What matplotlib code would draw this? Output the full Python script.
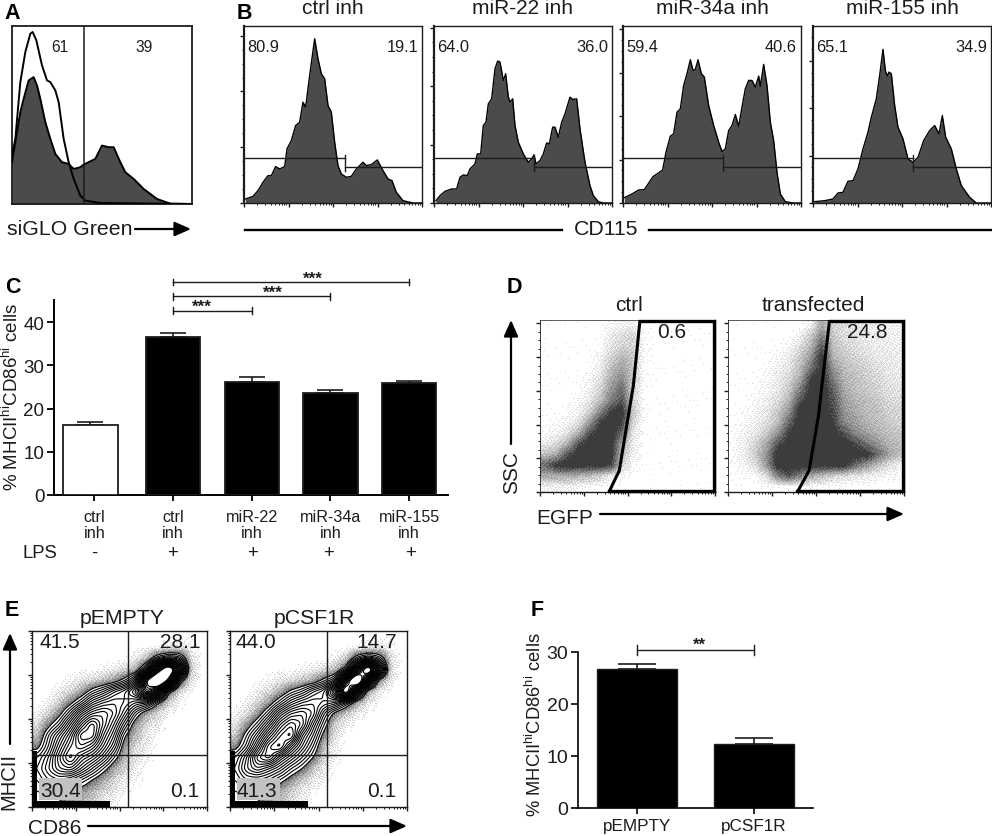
import numpy as np
import matplotlib
matplotlib.use("Agg")
import matplotlib.pyplot as plt
from matplotlib.patches import Rectangle

plt.rcParams['font.family'] = ['Liberation Sans', 'DejaVu Sans']
plt.rcParams['mathtext.default'] = 'regular'
plt.rcParams['axes.linewidth'] = 1.0

W, H = 992, 837
INK = '#1c1c1c'
FILL = '#4b4b4b'

# ---------- Panel A ----------
a_gray_x = [0,15,25,35,50,65,75,85,100,115,130,150,170,185,205,215,250,270,290,305,325,340,365,395,435,475,540]
a_gray_y = [125,215,275,315,370,380,355,315,245,195,150,125,120,105,110,118,135,175,170,170,125,95,75,45,15,1,0]
a_line_x = [0,10,25,40,55,62,73,90,105,115,130,140,155,170,185,205,220,265,540]
a_line_y = [145,195,365,455,510,515,490,415,370,365,340,305,195,125,75,25,10,3,0]
a_gate = 217
a_labels = ['61', '39']

# ---------- Panel B ----------
b_titles = ['ctrl inh', 'miR-22 inh', 'miR-34a inh', 'miR-155 inh']
b_left = ['80.9', '64.0', '59.4', '65.1']
b_right = ['19.1', '36.0', '40.6', '34.9']
b1_x = [4,27,42,57,72,82,95,107,122,129,142,155,167,177,185,197,212,222,232,242,252,262,272,282,292,307,322,337,357,367,382,400,417,432,444,457,477,507,534]
b1_y = [12,20,37,62,82,82,109,102,109,162,187,232,242,302,287,382,492,432,387,372,292,272,182,112,87,77,80,102,122,112,115,129,97,72,67,32,7,0,0]
b2_x = [6,18,33,53,68,78,88,100,108,123,130,140,148,156,163,173,183,191,198,208,215,223,228,236,243,253,268,283,293,300,306,318,328,338,346,356,363,373,383,393,408,416,428,438,453,468,478,493,508,533]
b2_y = [7,22,35,42,42,77,84,82,102,117,147,147,232,242,297,312,402,425,422,367,387,317,302,312,232,182,147,122,132,144,117,127,147,180,177,227,227,197,242,267,317,310,312,222,122,52,22,4,0,0]
b3_x = [4,27,47,64,90,102,119,129,142,152,162,172,182,192,202,210,217,225,235,244,257,272,287,297,307,317,327,337,347,357,367,377,387,397,407,412,422,432,442,452,462,472,487,512,535]
b3_y = [16,27,39,40,79,87,99,152,200,207,272,282,352,387,429,397,400,429,387,377,292,232,182,154,162,217,232,265,229,287,342,367,367,347,380,350,415,352,242,187,92,27,4,0,0]
b4_x = [5,35,60,75,90,105,120,135,150,165,175,190,200,210,217,223,228,235,245,255,270,285,300,315,332,350,365,378,388,398,415,430,445,470,490,532]
b4_y = [4,7,12,30,32,65,67,102,162,212,257,312,382,460,397,380,392,387,292,227,192,132,122,137,187,217,232,207,262,197,162,102,52,17,0,0]
b_gate_split = [302, 300, 300, 300]
b_major_step = [167, 175, 130, 142]

# ---------- Panel C ----------
c_labels = ['ctrl\ninh', 'ctrl\ninh', 'miR-22\ninh', 'miR-34a\ninh', 'miR-155\ninh']
c_lps = ['-', '+', '+', '+', '+']
c_values = [16.2, 36.6, 26.2, 23.7, 26.0]
c_errors = [0.7, 0.9, 1.2, 0.7, 0.5]
c_sig_end = [2, 3, 4]
c_sig_level = [42.7, 46.0, 49.3]

# ---------- Panel D ----------
d_titles = ['ctrl', 'transfected']
d_numbers = ['0.6', '24.8']
d_gate_x = [[300,280,265,238,207], [303,280,270,242,207]]
d_gate_y = [518,320,230,65,0]
d_ctrl = [
 [0,0,0,0,0,0,.03,.06,.06],
 [0,0,0,0,0,0,.08,.15,.2,.01],
 [0,0,0,0,0,0,.12,.2,.2,.02],
 [0,0,0,0,0,.05,.2,.35,.25,.02],
 [0,0,0,0,0,.07,.3,.45,.25],
 [0,0,0,0,.03,.12,.4,.55,.25,.02],
 [0,0,0,0,.05,.2,.5,.7,.2],
 [0,0,0,.02,.1,.3,.6,.8,.2],
 [0,0,.02,.05,.2,.55,.9,1,.25,.02],
 [0,.02,.03,.12,.45,.9,1,.9,.2],
 [.02,.05,.12,.35,.8,1,1,.7,.1],
 [.08,.15,.35,.8,1,1,1,.4,.08],
 [.3,.4,.8,1,1,1,1,.3,.05],
 [.7,.95,1,1,1,1,.9,.2,.02],
 [.4,.4,.4,.35,.3,.2,.08,.02],
 [.05,.05,.05,.03,.03],
]
d_trans = [
 [0,0,0,0,0,0,0,.05,.4,.2,.15,.1,.08,.06,.06,.05],
 [0,0,0,0,0,0,.05,.25,.6,.25,.15,.12,.08,.07,.07,.06],
 [0,0,0,0,0,.03,.15,.35,.8,.3,.2,.15,.1,.08,.08,.06],
 [0,0,0,0,.03,.08,.25,.5,1,.35,.25,.2,.15,.1,.1,.08],
 [0,0,0,.01,.05,.12,.3,.65,1,.5,.3,.25,.2,.15,.1,.08],
 [0,0,0,.03,.08,.18,.4,.9,1,.6,.35,.3,.22,.18,.12,.1],
 [0,0,.01,.04,.1,.25,.6,1,1,.75,.4,.3,.25,.2,.15,.12],
 [0,0,.02,.06,.15,.35,.8,1,1,.8,.45,.35,.3,.25,.18,.15],
 [0,.01,.04,.1,.25,.5,1,1,1,.85,.5,.4,.3,.3,.2,.2],
 [0,.02,.06,.15,.3,.7,1,1,1,.9,.55,.45,.35,.3,.25,.2],
 [.01,.04,.1,.25,.5,.9,1,1,1,1,.8,.55,.45,.35,.3,.25],
 [.01,.06,.2,.4,.8,1,1,1,1,1,1,.85,.65,.5,.35,.3],
 [.02,.08,.25,.5,1,1,1,1,1,1,1,1,1,.7,.45,.3],
 [.01,.05,.15,.5,1,1,1,1,1,1,1,.7,.5,.3,.15,.05],
 [0,.01,.02,.15,.6,.8,.6,.4,.3,.2,.15,.1,.08,.05,.03,.02],
 [0,0,0,.01,.01,.01,.01,.01,.01],
]

# ---------- Panel E ----------
e_titles = ['pEMPTY', 'pCSF1R']
e_numbers = [['41.5', '28.1', '30.4', '0.1'], ['44.0', '14.7', '41.3', '0.1']]
e_empty = [
 [0,0,0,0,0,0,0,0,0,0,0,0,0,.02,.02],
 [0,0,0,0,0,0,0,0,0,0,0,.05,.2,.3,.1],
 [0,0,0,0,0,0,0,0,0,.2,.8,3,4,3.5,.5],
 [0,0,0,0,0,0,.1,.2,.5,1,4,11,16,9,.6],
 [0,0,0,.1,.3,.5,.8,1.3,2.4,4.5,13,17,12,2.5,.3],
 [0,0,.2,.5,1.1,2.5,3.5,5,6,8,12,9,2,.4],
 [0,.1,.6,1.6,3,5,6,6.5,6,5,4.5,2,.5,.1],
 [.1,.5,1.6,3.5,6,7.5,8,7,5,2.6,1,.4],
 [.4,1.6,3,5.5,8,10,8,6,3.5,1.2,.5,.2],
 [.8,3,5,7,10,10,7,5,2,.8,.3],
 [1.6,3.5,6,8,9,8,6,4,1.2,.5,.2],
 [3,4.5,7,9,7,6,4.5,2.5,.8,.3,.1],
 [3.5,5,6.5,7,5.5,4,2.5,1.1,.5,.2],
 [3,4,4.5,4,3,2,1.1,.6,.2,.1],
 [2.5,3,2.5,2,1.5,1,.6,.3,.1],
 [2,2,2,1.5,1,.6,.3,.1],
]
e_csf1r = [
 [0,0,0,0,0,0,0,0,0,0,0,0,0,.02,.02],
 [0,0,0,0,0,0,0,0,0,0,0,.05,.2,.25,.1],
 [0,0,0,0,0,0,0,0,0,.1,.6,2.8,3.8,3,.4],
 [0,0,0,0,0,0,.1,.2,.4,.8,2.5,9,16,7,.4],
 [0,0,0,.1,.3,.4,.7,1.1,2.3,3.5,11,17,7,1.3,.2],
 [0,0,.2,.4,1,2.2,3,4.5,5.5,9,15,6,1,.2],
 [0,.1,.5,1.3,2.8,4.5,5.5,6,5.5,5,3,1,.3],
 [.1,.4,1.3,3,5.5,7,7.5,6.5,3.5,1.5,.6,.2],
 [.3,1.3,2.8,5,7.5,9,8,5,2.5,.5,.2],
 [.6,2.5,4.5,7,9,10,6,4,1.5,.4],
 [1.5,3.2,6,9,10,7,5,3,.7,.2],
 [3,5,8,9,6.5,5,3.5,2,.5,.1],
 [3.5,5.5,6.5,5.5,4.5,3,2,.7,.2],
 [3,4,4,3.5,2.5,1.5,.7,.3,.1],
 [2.5,3,2.5,2,1.2,.6,.3,.1],
 [2,2,2,1.5,.8,.4,.2],
]

# ---------- Panel F ----------
f_labels = ['pEMPTY', 'pCSF1R']
f_values = [26.7, 12.3]
f_errors = [0.9, 1.1]

ylabel = '% MHCII$^{hi}$CD86$^{hi}$ cells'
fig = plt.figure(figsize=(W / 100, H / 100), dpi=100, facecolor='white')


def ax_px(l, t, r, b, **kw):
    return fig.add_axes([l / W, 1 - b / H, (r - l) / W, (b - t) / H], **kw)


def flow_ticks(ax, xlim, ymajor=None, ymax=None):
    """Logicle-style decade ticks along the bottom, count ticks at left."""
    decades = (xlim[1] - xlim[0]) / 4
    xmaj = [xlim[0] + i * decades for i in range(5)]
    xmin = [xlim[0] + (i + np.log10(k)) * decades for i in range(4) for k in range(2, 10)]
    ax.set_xticks(xmaj)
    ax.set_xticks(xmin, minor=True)
    if ymajor is not None:
        n = int(ymax / ymajor) + 1
        ax.set_yticks([i * ymajor for i in range(n)])
        ax.set_yticks([i * ymajor / 4 for i in range(4 * n) if i * ymajor / 4 <= ymax], minor=True)
    ax.tick_params(which='major', length=3, width=1.0, color=INK, labelbottom=False, labelleft=False)
    ax.tick_params(which='minor', length=1.5, width=0.7, color=INK)
    for s in ax.spines.values():
        s.set_color(INK)


def upsample(grid, w, h):
    rows = [list(r) + [0] * (16 - len(r)) for r in grid]
    g = np.array(rows, dtype=float)
    n = g.shape[0]
    xs = (np.arange(w) + .5) / w * n - .5
    ys = (np.arange(h) + .5) / h * n - .5
    tmp = np.array([np.interp(xs, np.arange(n), r) for r in g])
    return np.array([np.interp(ys, np.arange(n), c) for c in tmp.T]).T


def blur(a, k, passes=2):
    ker = np.ones(k) / k
    for _ in range(passes):
        a = np.apply_along_axis(lambda v: np.convolve(np.pad(v, k, mode='edge'), ker, mode='same')[k:-k], 0, a)
        a = np.apply_along_axis(lambda v: np.convolve(np.pad(v, k, mode='edge'), ker, mode='same')[k:-k], 1, a)
    return a


def stipple(w, h):
    """Ordered halftone screen that turns a read density grid into fine dots."""
    yy, xx = np.mgrid[0:h, 0:w]
    return np.mod(52.9829189 * np.mod(0.06711056 * xx + 0.00583715 * yy, 1), 1)


# ---------- draw A ----------
ax = ax_px(12, 27, 192, 205)
ax.fill_between(a_gray_x, a_gray_y, color=FILL, lw=0, zorder=2)
ax.plot(a_gray_x, a_gray_y, color='black', lw=1.4, zorder=3)
ax.plot(a_line_x, a_line_y, color='black', lw=1.4, zorder=4)
ax.axvline(a_gate, color=INK, lw=1.1, zorder=5)
ax.set_xlim(0, 540); ax.set_ylim(0, 533)
ax.set_xticks([]); ax.set_yticks([])
for s in ax.spines.values():
    s.set_linewidth(1.3); s.set_color(INK)

# ---------- draw B ----------
b_x = [b1_x, b2_x, b3_x, b4_x]
b_y = [b1_y, b2_y, b3_y, b4_y]
b_boxes = [(244, 422), (434, 612), (623, 801), (813, 991)]
for i, (l, r) in enumerate(b_boxes):
    ax = ax_px(l, 27, r, 204)
    ax.fill_between(b_x[i], b_y[i], color=FILL, lw=0, zorder=2)
    ax.plot(b_x[i], b_y[i], color='black', lw=1.0, zorder=3)
    sp = b_gate_split[i]
    ax.plot([0, sp], [134, 134], color=INK, lw=1.0, zorder=4)
    ax.plot([sp, 534], [107, 107], color=INK, lw=1.0, zorder=4)
    ax.plot([sp, sp], [97, 145], color=INK, lw=1.0, zorder=4)
    ax.set_xlim(0, 534); ax.set_ylim(0, 530)
    flow_ticks(ax, (0, 534), b_major_step[i], 530)
    ax.spines['left'].set_linewidth(1.6)

# ---------- draw C ----------
ax = ax_px(54, 301, 448, 496)
cx0 = [-0.05, 1, 2, 3, 4]
spacing = 78.7
ax.set_xlim(1 - (173 - 54) / spacing, 1 + (448 - 173) / spacing)
ax.set_ylim(0, 195 / 4.32)
ax.bar(cx0, c_values, width=0.69,
       color=['white', 'black', 'black', 'black', 'black'], edgecolor=INK, linewidth=1.3, zorder=3)
ax.errorbar(cx0, c_values, yerr=[[0] * 5, c_errors], fmt='none', ecolor=INK, elinewidth=1.2,
            capsize=9.6, capthick=1.2, zorder=2)
ax.set_xticks(range(5)); ax.set_xticklabels(c_labels, fontsize=11.6, color=INK, linespacing=1.1)
ax.set_yticks(range(0, 41, 10))
ax.tick_params(axis='y', labelsize=13.5, length=5, width=1.3, pad=2, labelcolor=INK)
ax.tick_params(axis='x', length=4, width=1.3, pad=6)
for s in ['top', 'right']:
    ax.spines[s].set_visible(False)
for s in ['left', 'bottom']:
    ax.spines[s].set_linewidth(1.4)
star_x = [1.37, 2.27, 2.78]
for end, lev, sx in zip(c_sig_end, c_sig_level, star_x):
    ax.plot([1, end], [lev, lev], color=INK, lw=1.0, clip_on=False)
    for xv in (1, end):
        ax.plot([xv, xv], [lev - .75, lev + .75], color=INK, lw=1.0, clip_on=False)
    ax.text(sx, lev + 0.9, '***', ha='center', va='center', fontsize=12.3, fontweight='bold',
            color=INK, clip_on=False)

# ---------- draw D ----------
d_boxes = [(540, 715), (728, 904)]
for i, (l, r) in enumerate(d_boxes):
    w, h = r - l, 172
    ax = ax_px(l, 321, r, 493)
    dens = blur(upsample([d_ctrl, d_trans][i], 2 * w, 2 * h), 5, 1) + 0.002
    img = np.where(stipple(2 * w, 2 * h) < dens * 1.1, 0.24, 1.0)
    ax.imshow(img, cmap='gray', vmin=0, vmax=1, extent=(0, w, 0, h), origin='upper',
              aspect='auto', interpolation='antialiased', zorder=1)
    gx = np.array(d_gate_x[i]) * w / 525.0
    gy = np.array(d_gate_y) * h / 518.0
    ax.plot(gx, gy, color='black', lw=2.2, zorder=4, solid_capstyle='butt')
    ax.plot([gx[0], w - .7, w - .7, gx[-1]], [h - .7, h - .7, .7, .7], color='black', lw=2.4, zorder=4,
            clip_on=False, solid_joinstyle='miter')
    ax.set_xlim(0, w); ax.set_ylim(0, h)
    flow_ticks(ax, (0, w), h / 5.1, h)
    ax.spines['top'].set_linewidth(0.5)
    ax.spines['left'].set_linewidth(0.6)

# ---------- draw E ----------
e_boxes = [(32, 207), (230, 407)]
for i, (l, r) in enumerate(e_boxes):
    w, h = r - l, 176
    ax = ax_px(l, 632, r, 808)
    grid = [e_empty, e_csf1r][i]
    dens = blur(upsample(grid, w, h), 5, 2)
    fine = blur(upsample(grid, 2 * w, 2 * h), 9, 2)
    mask = (fine < 2.0) & (stipple(2 * w, 2 * h) < fine * 0.3) & (fine > 0.03)
    img = np.where(mask, 0.0, 1.0)
    ax.imshow(img, cmap='gray', vmin=0, vmax=1, extent=(0, w, h, 0), aspect='auto',
              interpolation='antialiased', zorder=1)
    X, Y = np.meshgrid(np.arange(w) + .5, np.arange(h) + .5)
    ax.contour(X, Y, dens, levels=np.arange(2.0, 12.6, 0.5), colors='black', linewidths=0.8, zorder=3)
    ax.add_patch(Rectangle((0, 120), 5, 56, color='black', lw=0, zorder=4))
    ax.add_patch(Rectangle((0, 170), 78, 6, color='black', lw=0, zorder=4))
    ax.add_patch(Rectangle((6.5, 147), 43, 22, color='#c2c2c2', lw=0, zorder=5))
    ax.axvline(0.546 * w, color=INK, lw=1.0, zorder=6)
    ax.axhline(0.704 * h, color=INK, lw=1.0, zorder=6)
    ax.set_xlim(0, w); ax.set_ylim(h, 0)
    flow_ticks(ax, (0, w))
    dec = h / 4.0
    ax.set_yticks([h - k * dec for k in range(5)])
    ax.set_yticks([h - (k + np.log10(m)) * dec for k in range(4) for m in range(2, 10)], minor=True)

# ---------- draw F ----------
ax = ax_px(578, 653, 813, 809)
ax.set_xlim(0, 2); ax.set_ylim(0, 30)
fx = [(637 - 578) / 117.5, (754 - 578) / 117.5]
ax.bar(fx, f_values, width=80 / 117.5, color='black', edgecolor=INK, linewidth=1.0, zorder=3)
ax.errorbar(fx, f_values, yerr=[[0, 0], f_errors], fmt='none', ecolor=INK, elinewidth=1.2,
            capsize=14, capthick=1.2, zorder=2)
ax.set_xticks(fx); ax.set_xticklabels(f_labels, fontsize=12.3, color=INK)
ax.set_yticks([0, 10, 20, 30])
ax.tick_params(axis='y', labelsize=14, length=5, width=1.2, pad=2, labelcolor=INK)
ax.tick_params(axis='x', length=4, width=1.2, pad=3)
for s in ['top', 'right']:
    ax.spines[s].set_visible(False)
for s in ['left', 'bottom']:
    ax.spines[s].set_linewidth(1.2)
ax.plot(fx, [30.4, 30.4], color=INK, lw=1.0, clip_on=False)
for xv in fx:
    ax.plot([xv, xv], [29.5, 31.4], color=INK, lw=1.0, clip_on=False)
ax.text(sum(fx) / 2 + 0.03, 31.5, '**', ha='center', va='center', fontsize=12, fontweight='bold',
        color=INK, clip_on=False)

# ---------- overlay in pixel space: letters, labels, arrows ----------
ov = fig.add_axes([0, 0, 1, 1], facecolor='none')
ov.set_xlim(0, W); ov.set_ylim(H, 0); ov.axis('off')


def T(x, y, s, size=15, rot=0, **kw):
    kw.setdefault('ha', 'center'); kw.setdefault('va', 'center')
    ov.text(x, y, s, fontsize=size, rotation=rot, color=INK, **kw)


def arrow(x0, y0, x1, y1, head=12):
    ov.annotate('', xy=(x1, y1), xytext=(x0, y0),
                arrowprops=dict(arrowstyle='-|>,head_length=0.75,head_width=0.33', color='black', lw=1.6,
                                shrinkA=0, shrinkB=0, mutation_scale=head * 1.1))


for x, y, s in [(12, 13, 'A'), (244, 13, 'B'), (13, 287, 'C'), (514, 287, 'D'), (12, 610, 'E'), (537, 610, 'F')]:
    ov.text(x, y, s, fontsize=15.5, fontweight='bold', color='black', ha='center', va='center')

T(60, 47, a_labels[0], 11.2); T(144, 47, a_labels[1], 11.2)
T(70, 229, 'siGLO Green', 15.3)
arrow(135, 230, 191, 230)

for i, (l, r) in enumerate(b_boxes):
    T((l + r) / 2, 8, b_titles[i], 15)
    T(l + 3, 47, b_left[i], 11.8, ha='left')
    T(r - 4, 47, b_right[i], 11.8, ha='right')
ov.plot([245, 562], [231, 231], color='black', lw=1.7)
ov.plot([649, 991], [231, 231], color='black', lw=1.7)
T(606, 229, 'CD115', 15.3)

T(12, 397, ylabel, 13.5, rot=90)
T(40, 553, 'LPS', 13.3)
for x, s in zip([94, 173, 253, 329, 410], c_lps):
    T(x, 553, s, 13.3)

T(629, 305, d_titles[0], 15); T(813, 305, d_titles[1], 15)
T(672, 332, d_numbers[0], 15); T(867, 332, d_numbers[1], 15)
T(512, 473, 'SSC', 15, rot=90)
arrow(511, 445, 511, 321)
T(565, 518, 'EGFP', 15)
arrow(600, 515, 904, 515)

T(122, 618, e_titles[0], 15.3); T(314, 618, e_titles[1], 15.3)
for nums, px in zip(e_numbers, [(60, 180, 61, 185), (256, 377, 257, 382)]):
    T(px[0], 642, nums[0], 15); T(px[1], 642, nums[1], 15)
    T(px[2], 792, nums[2], 15); T(px[3], 792, nums[3], 15)
T(9, 782, 'MHCII', 14.5, rot=90)
arrow(10, 745, 10, 634)
T(55, 829, 'CD86', 15)
arrow(88, 827, 407, 827)

T(535, 725, ylabel, 13.2, rot=90)

fig.savefig('out.png', dpi=100)
